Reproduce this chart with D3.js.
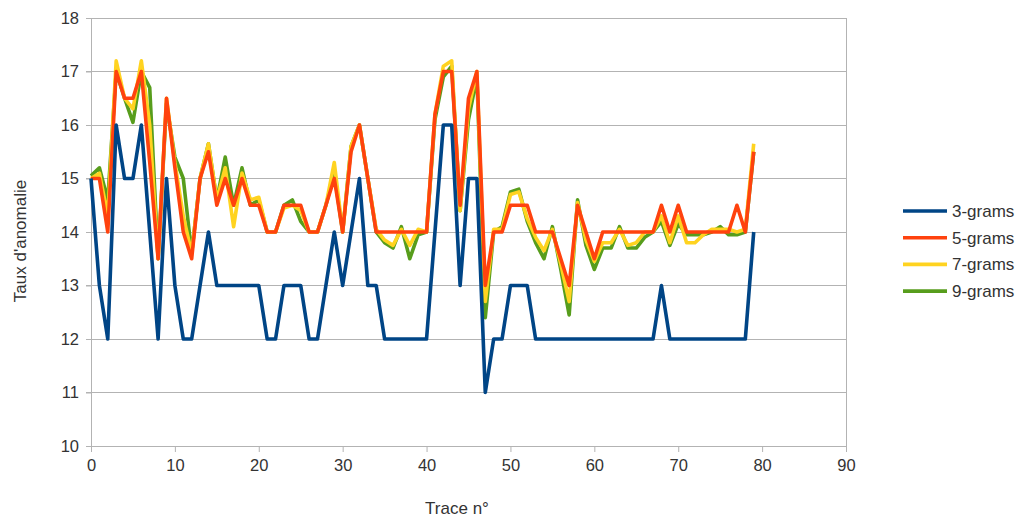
<!DOCTYPE html>
<html><head><meta charset="utf-8">
<script src="https://cdn.jsdelivr.net/npm/d3@7"></script>
<style>
html,body{margin:0;padding:0;background:#fff;}
svg text{font-family:"Liberation Sans",Arial,sans-serif;fill:#333;}
</style></head>
<body>
<svg id="chart" width="1021" height="521"></svg>
<script>
const traces = d3.range(0, 80);
const series = ["3-grams", "5-grams", "7-grams", "9-grams"];
const colors = ["#004586", "#ff420e", "#ffd320", "#579d1c"];
const xTicks = [0,10,20,30,40,50,60,70,80,90];
const yTicks = [10,11,12,13,14,15,16,17,18];
const xTitle = "Trace n°";
const yTitle = "Taux d'anomalie";

const grams3 = [15,13,12,16,15,15,16,14,12,15, 13,12,12,13,14,13,13,13,13,13,
  13,12,12,13,13,13,12,12,13,14, 13,14,15,13,13,12,12,12,12,12,
  12,14,16,16,13,15,15,11,12,12, 13,13,13,12,12,12,12,12,12,12,
  12,12,12,12,12,12,12,12,13,12, 12,12,12,12,12,12,12,12,12,14];
const grams5 = [15,15,14,17,16.5,16.5,17,15.3,13.5,16.5, 15.2,14,13.5,15,15.5,14.5,15,14.5,15,14.5,
  14.5,14,14,14.5,14.5,14.5,14,14,14.5,15, 14,15.5,16,15,14,14,14,14,14,14,
  14,16.2,17,17,14.5,16.5,17,13,14,14, 14.5,14.5,14.5,14,14,14,13.5,13,14.5,14,
  13.5,14,14,14,14,14,14,14,14.5,14, 14.5,14,14,14,14,14,14,14.5,14,15.5];
const grams7 = [15,15.1,14.3,17.2,16.5,16.3,17.2,16,13.5,16.5, 15.3,14.3,13.6,15,15.65,14.6,15.2,14.1,15.1,14.6,
  14.65,14,14,14.45,14.5,14.4,14,14,14.5,15.3, 14,15.6,16,15,14.05,13.85,13.75,14.05,13.75,14.05,
  14,16.2,17.1,17.2,14.4,16.3,17,12.7,14.05,14.05, 14.7,14.75,14.25,13.9,13.65,14.05,13.4,12.7,14.55,13.85,
  13.45,13.8,13.8,14.05,13.75,13.8,14,14,14.3,13.8, 14.3,13.8,13.8,13.95,14.05,14.05,14.05,14,14.05,15.65];
const grams9 = [15.05,15.2,14.6,17,16.5,16.05,17,16.7,13.5,16.4, 15.4,15,13.6,15,15.65,14.6,15.4,14.5,15.2,14.5,
  14.6,14,14,14.5,14.6,14.2,14,14,14.5,15.1, 14,15.6,16,15,14,13.8,13.7,14.1,13.5,13.95,
  14,16.1,16.9,17.1,14.4,16.1,16.9,12.4,14,14.1, 14.75,14.8,14.2,13.8,13.5,14.1,13.3,12.45,14.6,13.75,
  13.3,13.7,13.7,14.1,13.7,13.7,13.9,14,14.2,13.75, 14.15,13.95,13.95,13.95,14,14.1,13.95,13.95,14,15.5];
const values = [grams3, grams5, grams7, grams9];

const svg = d3.select("#chart");
const m = {left: 91, right: 846, top: 18, bottom: 446};
const x = d3.scaleLinear().domain([0, 90]).range([m.left, m.right]);
const y = d3.scaleLinear().domain([10, 18]).range([m.bottom, m.top]);
const FONT = "Liberation Sans, Arial, sans-serif";

// horizontal gridlines
svg.append("g").selectAll("line").data(yTicks).join("line")
  .attr("x1", m.left - 5).attr("x2", m.right)
  .attr("y1", d => y(d)).attr("y2", d => y(d))
  .attr("stroke", "#b3b3b3").attr("stroke-width", 1).attr("shape-rendering", "crispEdges");

// right border
svg.append("line").attr("x1", m.right).attr("x2", m.right).attr("y1", m.top).attr("y2", m.bottom)
  .attr("stroke", "#b3b3b3").attr("shape-rendering", "crispEdges");

// x axis
const xAxis = svg.append("g").attr("transform", `translate(0,${m.bottom})`)
  .call(d3.axisBottom(x).tickValues(xTicks).tickSize(6).tickPadding(7).tickFormat(d3.format("d")));
xAxis.select(".domain").attr("stroke", "#b3b3b3");
xAxis.selectAll(".tick line").attr("stroke", "#b3b3b3");
xAxis.selectAll("text").attr("font-size", 16.5).attr("fill", "#333").attr("font-family", FONT);

// y axis
const yAxis = svg.append("g").attr("transform", `translate(${m.left},0)`)
  .call(d3.axisLeft(y).tickValues(yTicks).tickSize(5).tickPadding(7).tickFormat(d3.format("d")));
yAxis.select(".domain").attr("stroke", "#b3b3b3");
yAxis.selectAll(".tick line").attr("stroke", "#b3b3b3");
yAxis.selectAll("text").attr("font-size", 16.5).attr("fill", "#333").attr("font-family", FONT);

// lines (drawn so that orange sits over yellow/green)
const line = d3.line().x((d, i) => x(traces[i])).y(d => y(d));
const order = [3, 2, 1, 0];
svg.append("g").selectAll("path").data(order).join("path")
  .attr("d", k => line(values[k]))
  .attr("fill", "none")
  .attr("stroke", k => colors[k])
  .attr("stroke-width", 3.6)
  .attr("stroke-linejoin", "round");

// titles
svg.append("text").attr("x", 457).attr("y", 514)
  .attr("text-anchor", "middle").attr("font-size", 17).text(xTitle);
svg.append("text").attr("transform", `translate(26,${(m.top + m.bottom) / 2 + 9}) rotate(-90)`)
  .attr("text-anchor", "middle").attr("font-size", 17).text(yTitle);

// legend
const lg = svg.append("g").selectAll("g").data(series).join("g")
  .attr("transform", (d, i) => `translate(903,${211 + i * 26.7})`);
lg.append("line").attr("x1", 0).attr("x2", 44).attr("y1", 0).attr("y2", 0)
  .attr("stroke", (d, i) => colors[i]).attr("stroke-width", 3.6);
lg.append("text").attr("x", 49).attr("y", 6).attr("font-size", 17).text(d => d);
</script>
</body></html>
